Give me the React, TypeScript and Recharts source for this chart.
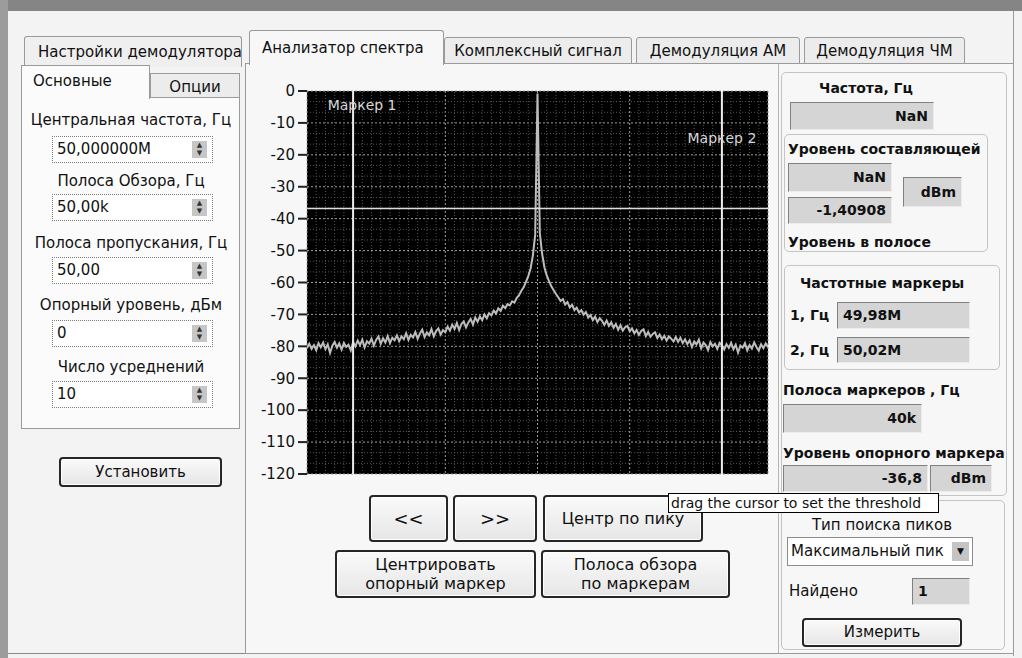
import React from "react";
import {
  CartesianGrid,
  Line,
  LineChart,
  ReferenceLine,
  XAxis,
  YAxis,
} from "recharts";

// spectrum around 50 MHz, offset from the centre in kHz, one sample every 0.25 kHz from -25 kHz
const SPAN_START = -25;
const SPAN_STEP = 0.25;

const levels = [
  // -25 .. -20.25
  -80.5, -79.2, -80.8, -79.6, -81.2, -79.0, -80.3, -78.8, -80.9, -79.4,
  -82.1, -79.8, -78.6, -80.4, -79.1, -81.0, -78.9, -80.2, -79.5, -81.3,
  // -20 .. -15.25
  -78.7, -80.0, -78.2, -79.6, -77.9, -80.3, -78.4, -79.1, -77.6, -79.8,
  -78.0, -76.9, -79.2, -77.5, -78.8, -76.8, -79.0, -77.3, -78.1, -76.6,
  // -15 .. -10.25
  -78.4, -76.9, -77.8, -75.9, -78.0, -76.4, -77.2, -75.5, -77.6, -76.0,
  -74.8, -77.1, -75.6, -76.5, -74.6, -76.9, -75.2, -74.4, -76.3, -74.9,
  // -10 .. -5.25
  -75.6, -73.8, -75.1, -73.2, -74.6, -72.7, -74.9, -73.0, -72.2, -74.1,
  -72.5, -71.4, -73.2, -71.0, -72.3, -70.6, -71.8, -70.0, -71.2, -69.6,
  // -5 .. -2.25
  -70.3, -68.8, -69.7, -68.1, -68.9, -67.3, -68.0, -66.8, -67.2, -65.9, -66.3, -64.8,
  // -2 .. -0.25
  -64.0, -62.6, -61.5, -59.8, -58.0, -55.6, -51.5, -45.0,
  // carrier
  -0.8,
  // 0.25 .. 2
  -44.5, -51.0, -55.2, -57.8, -59.6, -61.2, -62.4, -63.6,
  // 2.25 .. 5
  -64.6, -65.8, -65.2, -66.9, -66.1, -67.8, -67.0, -68.6, -67.9, -69.4, -68.7, -70.1,
  // 5.25 .. 10
  -69.3, -71.0, -70.2, -71.8, -70.7, -72.4, -71.2, -72.0, -73.3, -71.9,
  -73.6, -72.5, -74.2, -73.0, -74.8, -73.4, -75.1, -74.0, -73.6, -75.3,
  // 10.25 .. 15
  -74.4, -75.9, -74.9, -76.4, -75.2, -74.7, -76.8, -75.5, -77.0, -76.1,
  -75.6, -77.4, -76.3, -77.8, -76.7, -78.2, -76.9, -77.6, -78.5, -77.1,
  // 15.25 .. 20
  -78.6, -77.3, -79.0, -77.8, -79.3, -78.1, -80.2, -78.5, -79.4, -77.9,
  -80.6, -78.8, -79.6, -81.2, -78.7, -80.0, -79.2, -80.8, -78.9, -79.7,
  // 20.25 .. 25
  -81.0, -79.3, -80.5, -78.9, -80.9, -79.5, -82.0, -79.8, -80.4, -79.0,
  -81.3, -79.6, -80.7, -78.8, -80.2, -81.4, -79.4, -80.6, -79.1, -80.3,
];

const spectrum = levels.map((level, i) => ({ f: SPAN_START + i * SPAN_STEP, level }));

const yTicks = [0, -10, -20, -30, -40, -50, -60, -70, -80, -90, -100, -110, -120];
const xMajorTicks = [-20, -10, 0, 10, 20];
// fine grid: every 1 kHz and every 10/3 dB, skipping the major lines
const xMinorTicks = Array.from({ length: 49 }, (_, i) => -24 + i).filter((t) => t % 10 !== 0);
const yMinorTicks = Array.from({ length: 35 }, (_, i) => -120 + ((i + 1) * 10) / 3).filter(
  (_, i) => (i + 1) % 3 !== 0
);

const markers = [
  { name: "Маркер 1", f: -20, dx: 9, dy: 19 },
  { name: "Маркер 2", f: 20, dx: 0, dy: 52 },
];
const threshold = -36.8;

const FONT = "'DejaVu Sans', Verdana, sans-serif";

const leftFields = [
  { label: "Центральная частота, Гц", value: "50,000000M", ly: 120, top: 136 },
  { label: "Полоса Обзора, Гц", value: "50,00k", ly: 181, top: 194 },
  { label: "Полоса пропускания, Гц", value: "50,00", ly: 243, top: 257 },
  { label: "Опорный уровень, дБм", value: "0", ly: 305, top: 320 },
  { label: "Число усреднений", value: "10", ly: 367, top: 381 },
];

const topTabs = [
  { label: "Анализатор спектра", x: 249, w: 195, active: true },
  { label: "Комплексный сигнал", x: 444, w: 188 },
  { label: "Демодуляция АМ", x: 636, w: 164 },
  { label: "Демодуляция ЧМ", x: 804, w: 161 },
];

type BoxProps = {
  x: number;
  y: number;
  w: number;
  h: number;
  style?: React.CSSProperties;
  children?: React.ReactNode;
};

const Box = ({ x, y, w, h, style, children }: BoxProps) => (
  <div
    style={{
      position: "absolute",
      left: x,
      top: y,
      width: w,
      height: h,
      boxSizing: "border-box",
      ...style,
    }}
  >
    {children}
  </div>
);

type TextProps = {
  x: number;
  y: number;
  children: React.ReactNode;
  size?: number;
  bold?: boolean;
  center?: boolean;
  w?: number;
};

const Text = ({ x, y, children, size = 14, bold, center, w = 240 }: TextProps) => (
  <div
    style={{
      position: "absolute",
      left: center ? x - w / 2 : x,
      top: y - 10,
      width: center ? w : undefined,
      height: 20,
      lineHeight: "20px",
      fontSize: size,
      fontWeight: bold ? 700 : 400,
      textAlign: center ? "center" : "left",
      whiteSpace: "nowrap",
      color: "#111",
    }}
  >
    {children}
  </div>
);

const Field = ({
  x,
  y,
  w,
  h,
  value,
  right,
}: {
  x: number;
  y: number;
  w: number;
  h: number;
  value: string;
  right?: boolean;
}) => (
  <Box
    x={x}
    y={y}
    w={w}
    h={h}
    style={{
      background: "#d5d5d5",
      border: "1px solid #808080",
      borderRightColor: "#ececec",
      borderBottomColor: "#ececec",
      fontSize: 14,
      fontWeight: 700,
      lineHeight: `${h - 2}px`,
      textAlign: right ? "right" : "left",
      padding: "0 5px",
      color: "#111",
      whiteSpace: "nowrap",
    }}
  >
    {value}
  </Box>
);

const Button = ({
  x,
  y,
  w,
  h,
  children,
  size = 16,
}: {
  x: number;
  y: number;
  w: number;
  h: number;
  children: React.ReactNode;
  size?: number;
}) => (
  <Box
    x={x}
    y={y}
    w={w}
    h={h}
    style={{
      border: "2px solid #262626",
      borderRadius: 4,
      background: "linear-gradient(#fafafa, #e6e6e6)",
      boxShadow: "inset 0 0 0 1px #fff",
      display: "flex",
      alignItems: "center",
      justifyContent: "center",
      textAlign: "center",
      fontSize: size,
      lineHeight: "19px",
      color: "#111",
      whiteSpace: "nowrap",
    }}
  >
    {children}
  </Box>
);

const Spinner = () => (
  <div
    style={{
      position: "absolute",
      right: 5,
      top: 4,
      width: 15,
      height: 17,
      background: "#c6c6c6",
      fontSize: 7,
      lineHeight: "8px",
      textAlign: "center",
      color: "#333",
    }}
  >
    ▲<br />▼
  </div>
);

const MarkerLabel = (name: string, dx: number, dy: number) => (props: any) => {
  const vb = props.viewBox || {};
  return (
    <text
      x={vb.x + dx}
      y={vb.y + dy}
      textAnchor="middle"
      fill="#d8d8d8"
      fontSize={14}
      fontFamily={FONT}
    >
      {name}
    </text>
  );
};

const SpectrumChart = () => (
  <LineChart
    width={535}
    height={410}
    data={spectrum}
    margin={{ top: 11, right: 7, bottom: 16, left: 0 }}
  >
    <CartesianGrid fill="#000" stroke="#a0a0a0" strokeDasharray="2 2" />
    <XAxis
      dataKey="f"
      type="number"
      domain={[-25, 25]}
      ticks={xMajorTicks}
      interval={0}
      allowDataOverflow
      hide
    />
    <YAxis
      type="number"
      domain={[-120, 0]}
      ticks={yTicks}
      interval={0}
      width={67}
      axisLine={false}
      tickSize={9}
      tickMargin={3}
      tickLine={{ stroke: "#222", strokeWidth: 2 }}
      tick={{ fill: "#111", fontSize: 15, fontFamily: FONT }}
      allowDataOverflow
    />
    {xMinorTicks.map((t) => (
      <ReferenceLine key={`vx${t}`} x={t} stroke="#555" strokeDasharray="1 2" />
    ))}
    {yMinorTicks.map((t) => (
      <ReferenceLine key={`hy${t}`} y={t} stroke="#555" strokeDasharray="1 2" />
    ))}
    <Line
      type="linear"
      dataKey="level"
      stroke="#bdbdbd"
      strokeWidth={2}
      dot={false}
      isAnimationActive={false}
    />
    <ReferenceLine y={threshold} stroke="#dcdcdc" strokeWidth={1.5} />
    {markers.map((m) => (
      <ReferenceLine
        key={m.name}
        x={m.f}
        stroke="#ececec"
        strokeWidth={2}
        label={MarkerLabel(m.name, m.dx, m.dy)}
      />
    ))}
  </LineChart>
);

const App = () => {
  return (
    <div
      style={{
        position: "absolute",
        left: 0,
        top: 0,
        width: 1022,
        height: 658,
        overflow: "hidden",
        background: "#f3f3f3",
        fontFamily: FONT,
        color: "#111",
      }}
    >
      {/* window frame */}
      <Box x={0} y={0} w={1022} h={11} style={{ background: "#858585" }} />
      <Box x={0} y={0} w={8} h={658} style={{ background: "#9c9c9c" }} />
      <Box x={1013} y={11} w={1} h={645} style={{ background: "#9a9a9a" }} />
      <Box x={8} y={653} w={1006} h={1} style={{ background: "#8a8a8a" }} />

      {/* left settings column */}
      <Box
        x={24}
        y={36}
        w={218}
        h={31}
        style={{
          border: "1px solid #9a9a9a",
          borderBottom: "none",
          borderRadius: "3px 3px 0 0",
          background: "#efefef",
          overflow: "hidden",
          whiteSpace: "nowrap",
          fontSize: 15,
          lineHeight: "30px",
          paddingLeft: 13,
        }}
      >
        Настройки демодулятора
      </Box>
      <Box
        x={150}
        y={73}
        w={90}
        h={25}
        style={{
          border: "1px solid #9a9a9a",
          background: "#ececec",
          fontSize: 15,
          lineHeight: "26px",
          textAlign: "center",
        }}
      >
        Опции
      </Box>
      <Box
        x={21}
        y={97}
        w={219}
        h={332}
        style={{ border: "1px solid #9a9a9a", background: "#fbfbfb" }}
      />
      <Box
        x={21}
        y={65}
        w={129}
        h={34}
        style={{
          border: "1px solid #9a9a9a",
          borderBottom: "none",
          background: "#fbfbfb",
          fontSize: 15,
          lineHeight: "30px",
          paddingLeft: 11,
        }}
      >
        Основные
      </Box>
      {leftFields.map((f) => (
        <React.Fragment key={f.label}>
          <Text x={131} y={f.ly} center size={15}>
            {f.label}
          </Text>
          <Box
            x={52}
            y={f.top}
            w={161}
            h={27}
            style={{
              border: "1px dotted #7a7a7a",
              background: "#fff",
              fontSize: 15,
              lineHeight: "25px",
              paddingLeft: 4,
            }}
          >
            {f.value}
            <Spinner />
          </Box>
        </React.Fragment>
      ))}
      <Button x={59} y={457} w={163} h={30} size={15}>
        Установить
      </Button>

      {/* main tab widget */}
      <Box
        x={245}
        y={63}
        w={769}
        h={591}
        style={{ border: "1px solid #9a9a9a", background: "#f7f7f7" }}
      />
      {topTabs.map((t) => (
        <Box
          key={t.label}
          x={t.x}
          y={t.active ? 30 : 37}
          w={t.w}
          h={t.active ? 35 : 27}
          style={{
            border: "1px solid #9a9a9a",
            borderBottom: t.active ? "none" : "1px solid #9a9a9a",
            borderRadius: "3px 3px 0 0",
            background: t.active ? "#f7f7f7" : "#ececec",
            fontSize: 15,
            lineHeight: t.active ? "34px" : "26px",
            paddingLeft: t.active ? 12 : 0,
            textAlign: t.active ? "left" : "center",
            whiteSpace: "nowrap",
          }}
        >
          {t.label}
        </Box>
      ))}

      {/* chart */}
      <div style={{ position: "absolute", left: 240, top: 80 }}>
        <SpectrumChart />
      </div>

      {/* buttons under the chart */}
      <Button x={369} y={495} w={79} h={47} size={18}>
        {"<<"}
      </Button>
      <Button x={453} y={495} w={84} h={47} size={18}>
        {">>"}
      </Button>
      <Button x={543} y={495} w={160} h={47} size={16}>
        Центр по пику
      </Button>
      <Button x={335} y={550} w={201} h={48} size={16}>
        Центрировать
        <br />
        опорный маркер
      </Button>
      <Button x={541} y={550} w={189} h={48} size={16}>
        Полоса обзора
        <br />
        по маркерам
      </Button>

      {/* right measurement column */}
      <Box x={778} y={64} w={1} h={589} style={{ background: "#b5b5b5" }} />
      <Box
        x={781}
        y={72}
        w={226}
        h={424}
        style={{ border: "1px solid #c4c4c4", borderRadius: 5 }}
      />
      <Text x={866} y={88} center w={180} bold>
        Частота, Гц
      </Text>
      <Field x={790} y={102} w={144} h={28} value="NaN" right />

      <Box
        x={784}
        y={134}
        w={204}
        h={118}
        style={{ border: "1px solid #c4c4c4", borderRadius: 5 }}
      />
      <Text x={788} y={149} bold>
        Уровень составляющей
      </Text>
      <Field x={788} y={163} w={104} h={29} value="NaN" right />
      <Field x={903} y={177} w={59} h={30} value="dBm" right />
      <Field x={788} y={197} w={104} h={27} value="-1,40908" right />
      <Text x={788} y={242} bold>
        Уровень в полосе
      </Text>

      <Box
        x={784}
        y={265}
        w={216}
        h={105}
        style={{ border: "1px solid #c4c4c4", borderRadius: 5 }}
      />
      <Text x={882} y={283} center w={210} bold>
        Частотные маркеры
      </Text>
      <Text x={790} y={315} bold>
        1, Гц
      </Text>
      <Field x={837} y={302} w={133} h={27} value="49,98M" />
      <Text x={790} y={350} bold>
        2, Гц
      </Text>
      <Field x={837} y={337} w={133} h={26} value="50,02M" />

      <Text x={783} y={390} bold>
        Полоса маркеров , Гц
      </Text>
      <Field x={783} y={404} w={139} h={29} value="40k" right />
      <Text x={783} y={453} bold>
        Уровень опорного маркера
      </Text>
      <Field x={783} y={465} w={145} h={27} value="-36,8" right />
      <Field x={930} y={465} w={62} h={27} value="dBm" right />

      <Box
        x={781}
        y={500}
        w={224}
        h={150}
        style={{ border: "1px solid #c4c4c4", borderRadius: 5 }}
      />
      <Text x={882} y={525} center w={210} size={15}>
        Тип поиска пиков
      </Text>
      <Box
        x={787}
        y={537}
        w={186}
        h={29}
        style={{
          border: "1px solid #8c8c8c",
          background: "#fff",
          fontSize: 15,
          lineHeight: "27px",
          paddingLeft: 3,
          whiteSpace: "nowrap",
        }}
      >
        Максимальный пик
        <div
          style={{
            position: "absolute",
            right: 3,
            top: 4,
            width: 17,
            height: 19,
            background: "#c4c4c4",
            fontSize: 9,
            lineHeight: "19px",
            textAlign: "center",
          }}
        >
          ▼
        </div>
      </Box>
      <Text x={789} y={591} size={15}>
        Найдено
      </Text>
      <Field x={912} y={578} w={58} h={27} value="1" />
      <Button x={802} y={618} w={160} h={29} size={15}>
        Измерить
      </Button>

      {/* threshold hint */}
      <Box
        x={668}
        y={493}
        w={271}
        h={20}
        style={{
          border: "1px solid #000",
          background: "#fff",
          fontSize: 14,
          lineHeight: "18px",
          paddingLeft: 2,
          whiteSpace: "nowrap",
          overflow: "hidden",
        }}
      >
        drag the cursor to set the threshold
      </Box>
    </div>
  );
};

export default App;
